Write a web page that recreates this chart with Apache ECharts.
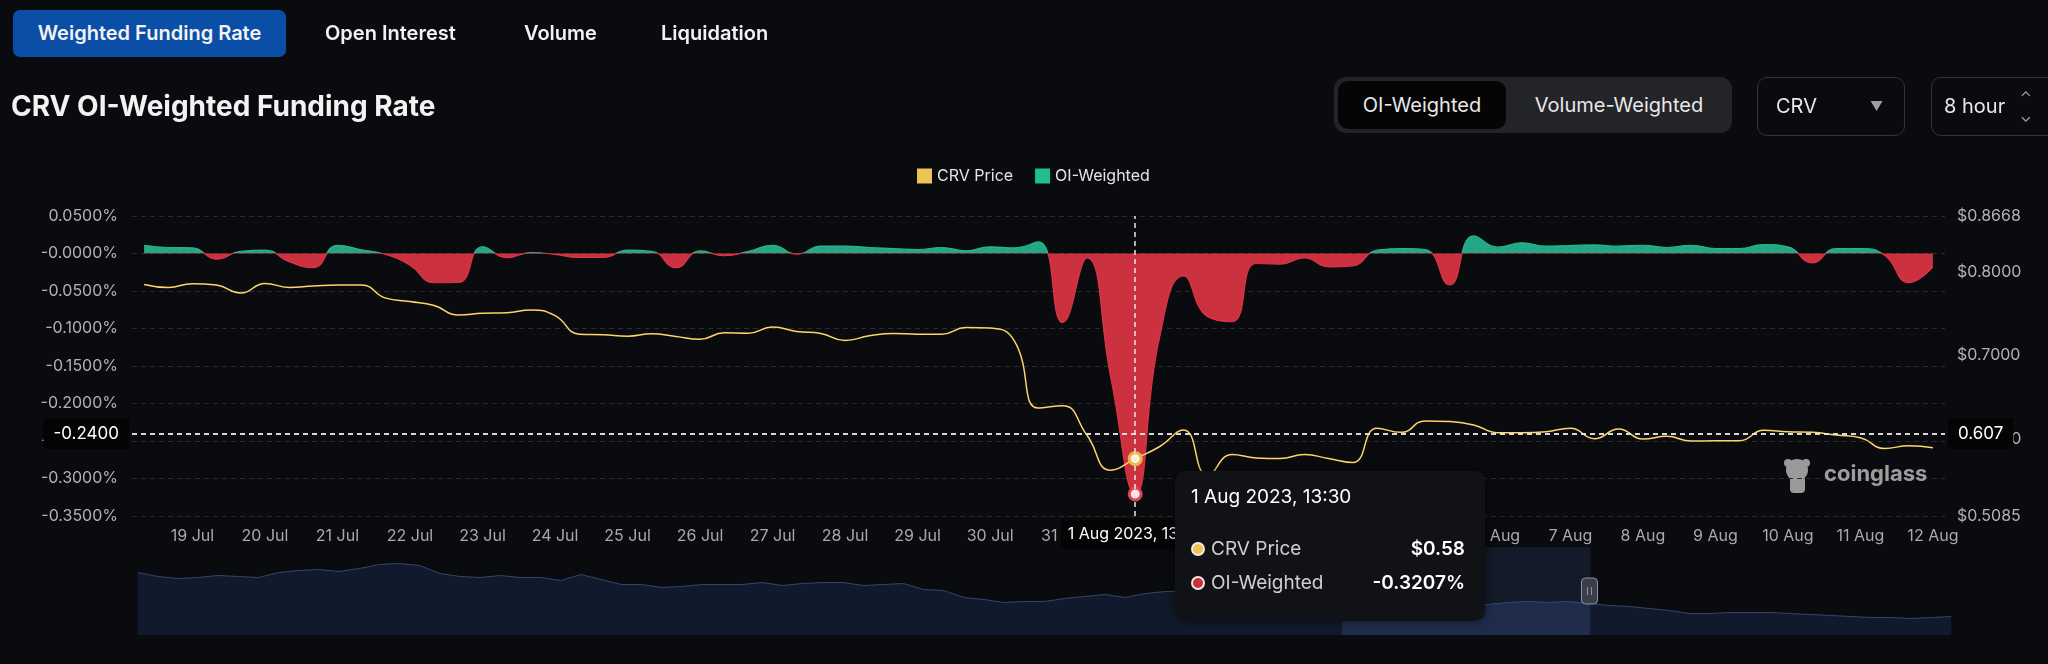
<!DOCTYPE html>
<html>
<head>
<meta charset="utf-8">
<title>CRV OI-Weighted Funding Rate</title>
<script src="https://cdn.jsdelivr.net/npm/echarts@6.0.0/dist/echarts.min.js"></script>
<style>
    html, body {
        margin: 0;
        padding: 0;
        width: 2048px;
        height: 664px;
        overflow: hidden;
        background: #0a0b0e;
        font-family: Inter, 'Noto Sans', sans-serif;
        color: #f0f0f0;
    }
    #funding_chart {
        position: absolute;
        left: 0;
        top: 0;
        width: 2048px;
        height: 664px;
    }
    .tab {
        position: absolute;
        top: 10px;
        height: 47px;
        line-height: 47px;
        font-size: 20px;
        font-weight: 600;
        color: #f2f2f2;
        z-index: 2;
    }
    .tab.active {
        left: 13px;
        width: 273px;
        text-align: center;
        background: #0a4ea8;
        border-radius: 7px;
    }
    .page-title {
        position: absolute;
        left: 11px;
        top: 89px;
        font-size: 28px;
        font-weight: 700;
        color: #f2f2f2;
        z-index: 2;
    }
    .segment {
        position: absolute;
        left: 1334px;
        top: 77px;
        width: 398px;
        height: 56px;
        background: #232428;
        border-radius: 12px;
        z-index: 2;
        font-size: 20px;
        color: #e8e8e8;
    }
    .segment .on {
        position: absolute;
        left: 4px;
        top: 4px;
        width: 168px;
        height: 48px;
        line-height: 48px;
        text-align: center;
        background: #050506;
        border-radius: 10px;
    }
    .segment .off {
        position: absolute;
        left: 172px;
        top: 4px;
        width: 226px;
        height: 48px;
        line-height: 48px;
        text-align: center;
    }
    .select {
        position: absolute;
        top: 77px;
        height: 57px;
        line-height: 57px;
        border: 1px solid #33353b;
        border-radius: 10px;
        font-size: 20px;
        color: #e8e8e8;
        z-index: 2;
        box-sizing: content-box;
    }
    .select span {
        position: absolute;
        color: #a0a0a0;
    }
</style>
</head>
<body>
<div class="tab active">Weighted Funding Rate</div>
<div class="tab" style="left:325px">Open Interest</div>
<div class="tab" style="left:524px">Volume</div>
<div class="tab" style="left:661px">Liquidation</div>
<div class="page-title">CRV OI-Weighted Funding Rate</div>
<div class="segment">
    <div class="on">OI-Weighted</div>
    <div class="off">Volume-Weighted</div>
</div>
<div class="select" style="left:1757px;width:146px">
    <span style="left:18px;color:#e8e8e8">CRV</span>
    <span style="left:112px;font-size:13px">&#9660;</span>
</div>
<div class="select" style="left:1931px;width:140px">
    <span style="left:12px;color:#e8e8e8">8 hour</span>
    <span style="left:88px;font-size:15px;line-height:20px;top:9px">&#8963;<br>&#8964;</span>
</div>
<div id="funding_chart"></div>
<script>
// 8 hour funding points, first one 18 Jul 2023 21:30 (UTC)
var START_TIME = Date.UTC(2023, 6, 18, 21, 30);
var STEP_HOURS = 8;

// OI-weighted funding rate, in %
var fundingRate = [
    0.011, 0.008, 0.0075, -0.0075, 0.003, 0.0045, -0.011, -0.0187, 0.011, 0.005,
    -0.0013, -0.0155, -0.039, -0.0387, 0.009, -0.0055, 0.0013, -0.0013, -0.0053, -0.0053,
    0.0044, 0.003, -0.019, 0.0036, -0.003, 0.003, 0.011, -0.0009, 0.0098, 0.010,
    0.0080, 0.0067, 0.0053, 0.008, 0.0036, 0.0089, 0.0075, 0.0155, -0.092, -0.0058,
    -0.1667, -0.3207, -0.1133, -0.030, -0.0844, -0.091, -0.0133, -0.0142, -0.0058, -0.0178,
    -0.0164, 0.0044, 0.0067, 0.0053, -0.042, 0.0235, 0.0084, 0.0142, 0.0098, 0.0107,
    0.0115, 0.0098, 0.011, 0.008, 0.011, 0.0067, 0.0067, 0.012, 0.0089, -0.0124,
    0.0067, 0.0067, -0.0022, -0.0387, -0.0178
];

// CRV price, USD
var crvPrice = [
    0.7851, 0.7815, 0.786, 0.7843, 0.7747, 0.7863, 0.7815, 0.7831, 0.7843, 0.7843,
    0.7687, 0.7647, 0.7598, 0.7486, 0.7506, 0.7512, 0.7546, 0.7478, 0.7257, 0.7249,
    0.7233, 0.7261, 0.7229, 0.7197, 0.7273, 0.7269, 0.7341, 0.7289, 0.7265, 0.7181,
    0.7237, 0.7265, 0.7257, 0.7257, 0.7337, 0.7329, 0.7177, 0.6374, 0.6402, 0.6052,
    0.5631, 0.577, 0.5912, 0.6112, 0.557, 0.5819, 0.5779, 0.5771, 0.5819, 0.5771,
    0.5723, 0.6133, 0.6084, 0.6221, 0.6213, 0.6173, 0.6080, 0.6080, 0.6092, 0.6133,
    0.6008, 0.6125, 0.6004, 0.6036, 0.5980, 0.5984, 0.5984, 0.6108, 0.6092, 0.6084,
    0.6052, 0.6020, 0.5892, 0.5924, 0.5900
];

// longer price history drawn in the zoom slider
var historyPrice = [
    0.766, 0.750, 0.742, 0.746, 0.754, 0.750, 0.746, 0.766, 0.774, 0.778,
    0.770, 0.782, 0.798, 0.802, 0.794, 0.762, 0.750, 0.746, 0.754, 0.746,
    0.746, 0.734, 0.758, 0.738, 0.718, 0.718, 0.706, 0.710, 0.718, 0.718,
    0.718, 0.726, 0.714, 0.722, 0.726, 0.726, 0.714, 0.718, 0.722, 0.698,
    0.694, 0.666, 0.658, 0.646, 0.650, 0.650, 0.662, 0.670, 0.678, 0.666,
    0.682, 0.690, 0.690, 0.698, 0.690, 0.682, 0.670, 0.662, 0.658, 0.650,
    0.650, 0.646, 0.642, 0.642, 0.638, 0.638, 0.638, 0.638, 0.646, 0.650,
    0.646, 0.650, 0.642, 0.634, 0.630, 0.622, 0.614, 0.602, 0.602, 0.606,
    0.606, 0.606, 0.602, 0.598, 0.594, 0.590, 0.586, 0.586, 0.582, 0.586,
    0.590
];

var priceTicks = [0.5085, 0.6, 0.7, 0.8, 0.8668];
var MONTHS = ['Jan', 'Feb', 'Mar', 'Apr', 'May', 'Jun', 'Jul', 'Aug', 'Sep', 'Oct', 'Nov', 'Dec'];

var times = [];
for (var i = 0; i < fundingRate.length; i++) {
    times.push(START_TIME + i * STEP_HOURS * 3600 * 1000);
}
var historyIndex = historyPrice.map(function (v, k) {
    return String(k);
});

function pad(n) {
    return n < 10 ? '0' + n : '' + n;
}

function dayLabel(t) {
    var d = new Date(+t);
    return d.getUTCDate() + ' ' + MONTHS[d.getUTCMonth()];
}

function fullLabel(t) {
    var d = new Date(+t);
    return dayLabel(t) + ' ' + d.getUTCFullYear() + ', ' + pad(d.getUTCHours()) + ':' + pad(d.getUTCMinutes());
}

/**
 * funding rate chart
 */
function fundingChart() {
    var myChart = echarts.init(document.getElementById('funding_chart'));
    var option = {
        backgroundColor: '#0a0b0e',
        animation: false,
        textStyle: {
            fontFamily: 'Inter, Noto Sans, sans-serif'
        },
        legend: {
            top: 163,
            left: 912,
            icon: 'rect',
            itemWidth: 15,
            itemHeight: 15,
            itemGap: 22,
            data: ['CRV Price', 'OI-Weighted'],
            textStyle: {
                color: '#e4e4e4',
                fontSize: 16
            }
        },
        grid: [
            {left: 132, right: 103, top: 216, height: 300, containLabel: false, outerBoundsMode: 'none'},
            {left: 135, right: 99, top: 547, height: 88, containLabel: false, outerBoundsMode: 'none'}
        ],
        tooltip: {
            trigger: 'axis',
            alwaysShowContent: true,
            transitionDuration: 0,
            backgroundColor: '#111216',
            borderColor: '#111216',
            borderWidth: 0,
            padding: [12, 20, 21, 16],
            extraCssText: 'width:274px;border-radius:10px;box-shadow:0 0 10px rgba(0,0,0,0.6);',
            position: function (point) {
                return [point[0] + 40, point[1] + 37];
            },
            axisPointer: {
                type: 'cross',
                lineStyle: {color: '#e6e6e6', type: [5, 4], width: 1.5},
                crossStyle: {color: '#e6e6e6', type: [5, 4], width: 1.5},
                label: {
                    backgroundColor: '#040405',
                    color: '#ffffff',
                    fontSize: 16,
                    padding: [7, 7]
                }
            },
            formatter: function (params) {
                var byName = {};
                params.forEach(function (p) {
                    byName[p.seriesName] = p;
                });
                var html = '<div style="font-size:19px;line-height:28px;color:#fff;margin-bottom:21px">' +
                    fullLabel(params[0].axisValue) + '</div>';
                var rows = [
                    ['CRV Price', function (v) { return '$' + v.toFixed(2); }],
                    ['OI-Weighted', function (v) { return v.toFixed(4) + '%'; }]
                ];
                rows.forEach(function (r) {
                    var p = byName[r[0]];
                    if (!p) {
                        return;
                    }
                    html += '<div style="display:flex;justify-content:space-between;align-items:center;font-size:19px;line-height:34px">' +
                        '<span style="color:#cfcfcf;display:flex;align-items:center">' +
                        '<span style="display:inline-block;width:10px;height:10px;border-radius:50%;background:' + p.color +
                        ';border:2px solid #f3e9e0;margin-right:6px"></span>' + r[0] + '</span>' +
                        '<span style="color:#fff;font-weight:600">' + r[1](p.value) + '</span></div>';
                });
                return html;
            }
        },
        visualMap: {
            show: false,
            type: 'piecewise',
            seriesIndex: 0,
            dimension: 1,
            pieces: [
                {gte: -1, lte: 0, color: '#c9303d'},
                {gt: 0, lte: 1, color: '#22a582'}
            ],
            outOfRange: {color: '#c9303d'}
        },
        xAxis: [
            {
                type: 'category',
                gridIndex: 0,
                data: times,
                boundaryGap: true,
                axisLine: {show: false},
                axisTick: {show: false},
                splitLine: {show: false},
                axisLabel: {
                    color: '#a9a9a9',
                    fontSize: 16,
                    margin: 12,
                    interval: function (index, value) {
                        return new Date(+value).getUTCHours() === 13;
                    },
                    formatter: function (value) {
                        return dayLabel(value);
                    }
                },
                axisPointer: {
                    label: {
                        formatter: function (p) {
                            return fullLabel(p.value);
                        }
                    }
                }
            },
            {
                type: 'category',
                gridIndex: 1,
                data: historyIndex,
                boundaryGap: false,
                show: false
            }
        ],
        yAxis: [
            {
                type: 'value',
                gridIndex: 0,
                position: 'left',
                min: -0.35,
                max: 0.05,
                interval: 0.05,
                axisLine: {show: false},
                axisTick: {show: false},
                splitLine: {
                    show: true,
                    lineStyle: {color: '#2a2b30', type: [5, 4]}
                },
                axisLabel: {
                    color: '#b2b2b2',
                    fontSize: 16,
                    margin: 14,
                    formatter: function (v) {
                        return (v === 0 ? '-0.0000' : v.toFixed(4)) + '%';
                    }
                },
                axisPointer: {
                    label: {
                        fontSize: 17,
                        padding: [7, 10],
                        formatter: function (p) {
                            return Number(p.value).toFixed(4);
                        }
                    }
                }
            },
            {
                type: 'value',
                gridIndex: 0,
                position: 'right',
                min: 0.5085,
                max: 0.8668,
                axisLine: {show: false},
                axisTick: {show: false},
                splitLine: {show: false},
                axisLabel: {
                    color: '#b2b2b2',
                    fontSize: 16,
                    margin: 12,
                    customValues: priceTicks,
                    formatter: function (v) {
                        return '$' + v.toFixed(4);
                    }
                },
                axisPointer: {
                    label: {
                        fontSize: 17,
                        padding: [7, 10],
                        formatter: function (p) {
                            return Number(p.value).toFixed(3);
                        }
                    }
                }
            },
            {
                type: 'value',
                gridIndex: 1,
                scale: true,
                show: false
            }
        ],
        dataZoom: [
            {
                type: 'slider',
                xAxisIndex: 1,
                filterMode: 'none',
                start: 66.4,
                end: 80.1,
                left: 135,
                right: 99,
                top: 547,
                height: 88,
                showDetail: false,
                brushSelect: false,
                backgroundColor: 'transparent',
                borderColor: 'transparent',
                fillerColor: 'rgba(42,58,98,0.32)',
                moveHandleSize: 0,
                moveHandleStyle: {opacity: 0},
                handleIcon: 'path://M4,0H12A4,4,0,0,1,16,4V22A4,4,0,0,1,12,26H4A4,4,0,0,1,0,22V4A4,4,0,0,1,4,0ZM6,9V17M10,9V17',
                handleSize: 26,
                handleStyle: {color: '#3a3e48', borderColor: '#8d929c', borderWidth: 1},
                dataBackground: {
                    lineStyle: {color: '#34466f', width: 1, opacity: 1},
                    areaStyle: {color: '#111a2c', opacity: 1}
                },
                selectedDataBackground: {
                    lineStyle: {color: '#3c4e7a', width: 1, opacity: 1},
                    areaStyle: {color: '#1b2540', opacity: 1}
                }
            }
        ],
        graphic: [
            {
                type: 'group',
                left: 1784,
                top: 459,
                z: 1,
                children: [
                    {type: 'circle', shape: {cx: 15, cy: 12, r: 11}, style: {fill: '#9a9a9a'}},
                    {type: 'circle', shape: {cx: 6, cy: 5, r: 4}, style: {fill: '#9a9a9a'}},
                    {type: 'circle', shape: {cx: 24, cy: 5, r: 4}, style: {fill: '#9a9a9a'}},
                    {type: 'rect', shape: {x: 8, y: 18, width: 15, height: 17, r: 4}, style: {fill: '#9a9a9a'}}
                ]
            },
            {
                type: 'text',
                left: 1824,
                top: 463,
                z: 1,
                style: {text: 'coinglass', fill: '#9d9d9d', font: 'bold 22px Inter, sans-serif'}
            }
        ],
        series: [
            {
                name: 'OI-Weighted',
                type: 'line',
                xAxisIndex: 0,
                yAxisIndex: 0,
                data: fundingRate,
                smooth: true,
                showSymbol: false,
                symbol: 'circle',
                symbolSize: 12,
                itemStyle: {color: '#1ebf89'},
                lineStyle: {width: 1.2},
                areaStyle: {opacity: 0.92},
                emphasis: {
                    scale: false,
                    itemStyle: {color: '#ffe4e8', borderColor: '#e0404f', borderWidth: 3}
                },
                z: 2
            },
            {
                name: 'CRV Price',
                type: 'line',
                xAxisIndex: 0,
                yAxisIndex: 1,
                data: crvPrice,
                smooth: true,
                showSymbol: false,
                symbol: 'circle',
                symbolSize: 12,
                itemStyle: {color: '#efc256'},
                lineStyle: {color: '#e7c163', width: 1.5},
                emphasis: {
                    scale: false,
                    itemStyle: {color: '#fff5dc', borderColor: '#eab84a', borderWidth: 3}
                },
                z: 3
            },
            {
                name: 'history',
                type: 'line',
                xAxisIndex: 1,
                yAxisIndex: 2,
                data: historyPrice,
                showSymbol: false,
                silent: true,
                lineStyle: {opacity: 0, width: 0},
                tooltip: {show: false}
            }
        ]
    };
    if (option && typeof option === "object") {
        myChart.setOption(option, true);
    }
    // hover 1 Aug 2023, 13:30 like the screenshot
    myChart.dispatchAction({type: 'showTip', x: 1135, y: 433.5});
}

fundingChart();
</script>
</body>
</html>
